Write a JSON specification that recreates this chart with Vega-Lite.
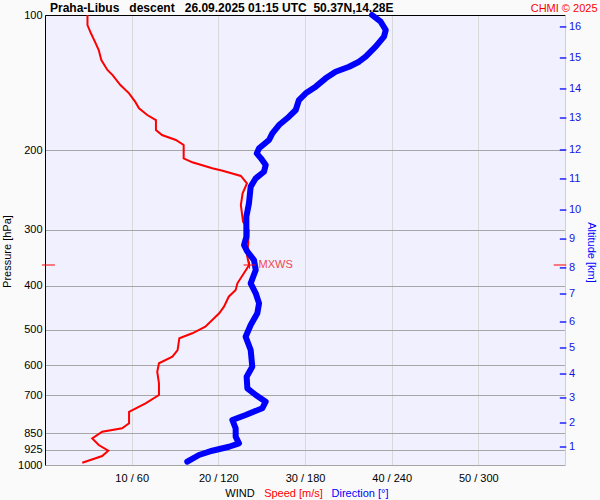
{
  "$schema": "https://vega.github.io/schema/vega-lite/v6.json",
  "width": 520,
  "height": 450,
  "autosize": {"type": "none"},
  "padding": {"left": 45, "top": 15, "right": 35, "bottom": 35},
  "background": "#FAFAFA",
  "config": {
    "view": {"fill": "#F0F0FF", "stroke": null},
    "font": "Liberation Sans",
    "axis": {"labelFont": "Liberation Sans", "titleFont": "Liberation Sans", "labelFontSize": 11, "titleFontSize": 11, "titleFontWeight": "normal", "ticks": false, "labelColor": "black", "titleColor": "black"}
  },
  "title": {"text": "Praha-Libus\u00a0\u00a0 descent\u00a0\u00a0 26.09.2025 01:15 UTC\u00a0 50.37N,14.28E", "anchor": "start", "frame": "group", "dx": 5, "dy": 25, "offset": 3, "baseline": "alphabetic", "fontSize": 12, "fontWeight": "bold", "font": "Liberation Sans", "color": "black"},
  "datasets": {
    "speed": [
      {"p": 100, "s": 4.9}, {"p": 105.3, "s": 4.9}, {"p": 109.8, "s": 5.3}, {"p": 115.6, "s": 5.85}, {"p": 119.6, "s": 6.2}, {"p": 125.9, "s": 6.5}, {"p": 132.5, "s": 7.2}, {"p": 136, "s": 7.8}, {"p": 143.1, "s": 8.7}, {"p": 149.3, "s": 9.7}, {"p": 155.8, "s": 10.4}, {"p": 161.2, "s": 10.85}, {"p": 166.8, "s": 11.8}, {"p": 171.2, "s": 12.8}, {"p": 180.1, "s": 12.8}, {"p": 184.8, "s": 13.5}, {"p": 189.6, "s": 15.1}, {"p": 194.5, "s": 16.0}, {"p": 208.2, "s": 16.0}, {"p": 212.5, "s": 17.0}, {"p": 219.1, "s": 19.3}, {"p": 221.8, "s": 20.5}, {"p": 227.9, "s": 22.6}, {"p": 236.6, "s": 23.3}, {"p": 249, "s": 22.8}, {"p": 264.5, "s": 22.6}, {"p": 288, "s": 22.85}, {"p": 300.5, "s": 23.5}, {"p": 321.7, "s": 23.45}, {"p": 341.5, "s": 23.3}, {"p": 359.4, "s": 23.55}, {"p": 375, "s": 22.95}, {"p": 394.7, "s": 22.2}, {"p": 408.5, "s": 22.0}, {"p": 422.7, "s": 21.2}, {"p": 444.8, "s": 20.65}, {"p": 460.2, "s": 20.1}, {"p": 492.9, "s": 18.5}, {"p": 509.7, "s": 17.0}, {"p": 523, "s": 15.5}, {"p": 555.3, "s": 15.3}, {"p": 574.6, "s": 14.7}, {"p": 594.3, "s": 13.15}, {"p": 620.4, "s": 12.95}, {"p": 658.3, "s": 13.15}, {"p": 699, "s": 13.15}, {"p": 729.6, "s": 11.6}, {"p": 761.6, "s": 9.7}, {"p": 808, "s": 9.7}, {"p": 828.7, "s": 8.9}, {"p": 843.3, "s": 6.6}, {"p": 872.4, "s": 5.45}, {"p": 902.9, "s": 6.2}, {"p": 929.5, "s": 7.3}, {"p": 955, "s": 6.6}, {"p": 988.3, "s": 4.3}
    ],
    "dir": [
      {"p": 100, "d": 226.4}, {"p": 103.5, "d": 232.4}, {"p": 108, "d": 235.9}, {"p": 111.7, "d": 234.7}, {"p": 117.6, "d": 228.9}, {"p": 123.8, "d": 222}, {"p": 127, "d": 217.4}, {"p": 130.3, "d": 210.5}, {"p": 133.7, "d": 201.2}, {"p": 138.3, "d": 194.3}, {"p": 144.3, "d": 187.4}, {"p": 149.3, "d": 180.5}, {"p": 154.5, "d": 175.8}, {"p": 162.6, "d": 173.6}, {"p": 168.3, "d": 168.9}, {"p": 175.6, "d": 162}, {"p": 183.2, "d": 157.4}, {"p": 189.6, "d": 155.1}, {"p": 197.8, "d": 148.2}, {"p": 203, "d": 146.6}, {"p": 208.2, "d": 149.5}, {"p": 215.4, "d": 152.8}, {"p": 223, "d": 151.6}, {"p": 230.6, "d": 145.9}, {"p": 240.7, "d": 142.4}, {"p": 262.1, "d": 141.2}, {"p": 280.7, "d": 139.4}, {"p": 311, "d": 139.4}, {"p": 324.5, "d": 137.8}, {"p": 335.7, "d": 140.1}, {"p": 350.4, "d": 144.7}, {"p": 368.8, "d": 145.9}, {"p": 394.7, "d": 142.4}, {"p": 415.4, "d": 145.9}, {"p": 437.3, "d": 148.2}, {"p": 460.2, "d": 147}, {"p": 488.6, "d": 142.4}, {"p": 518.7, "d": 138.9}, {"p": 555.3, "d": 142.4}, {"p": 604.7, "d": 143.5}, {"p": 636.5, "d": 139.6}, {"p": 675.4, "d": 140.1}, {"p": 699, "d": 145.9}, {"p": 723.4, "d": 152.8}, {"p": 748.2, "d": 150.4}, {"p": 774.3, "d": 138.9}, {"p": 794.3, "d": 129.7}, {"p": 828.7, "d": 132}, {"p": 865.2, "d": 132}, {"p": 895, "d": 134.3}, {"p": 910.7, "d": 127.4}, {"p": 929.5, "d": 115.8}, {"p": 950.1, "d": 106.6}, {"p": 983.3, "d": 98.5}
    ],
    "mxws": [{"p": 359.4, "s": 23.6, "label": "MXWS"}],
    "alt": [
      {"km": 16, "p": 106.3}, {"km": 15, "p": 124.6}, {"km": 14, "p": 146.0}, {"km": 13, "p": 169.4}, {"km": 12, "p": 199.5}, {"km": 11, "p": 231.4}, {"km": 10, "p": 271.3}, {"km": 9, "p": 314.7}, {"km": 8, "p": 364.8}, {"km": 7, "p": 416.9}, {"km": 6, "p": 481.1}, {"km": 5, "p": 549.5}, {"km": 4, "p": 627.8}, {"km": 3, "p": 709.7}, {"km": 2, "p": 806.6}, {"km": 1, "p": 912.0}
    ]
  },
  "layer": [
    {
      "data": {"name": "speed"},
      "mark": {"type": "line", "color": "#FF0000", "strokeWidth": 2},
      "encoding": {
        "x": {"field": "s", "type": "quantitative", "scale": {"domain": [0, 60], "nice": false, "zero": false},
          "axis": {"orient": "bottom", "values": [10, 20, 30, 40, 50], "labelExpr": "datum.value + ' / ' + datum.value * 6", "grid": true, "gridColor": "#D9D9D9", "domain": false, "labelPadding": 7, "title": "WIND", "titleX": 194.5, "titleY": 31, "titleBaseline": "alphabetic", "titleAlign": "center"}},
        "y": {"field": "p", "type": "quantitative", "scale": {"type": "log", "domain": [100, 1000], "reverse": true, "nice": false},
          "axis": {"orient": "left", "values": [100, 200, 300, 400, 500, 600, 700, 850, 925, 1000], "format": "d", "grid": true, "gridColor": "#A6A6A6", "domainColor": "black", "labelPadding": 3, "title": "Pressure [hPa]", "titleX": -38, "titleY": 236, "titleAngle": -90, "titleAlign": "center", "titleBaseline": "middle"}},
        "order": {"field": "p", "type": "quantitative"}
      }
    },
    {
      "data": {"name": "dir"},
      "mark": {"type": "line", "color": "#0000FF", "strokeWidth": 6, "strokeCap": "round", "strokeJoin": "round"},
      "encoding": {
        "x": {"field": "d", "type": "quantitative", "scale": {"domain": [0, 360], "nice": false, "zero": false},
          "axis": {"orient": "bottom", "labels": false, "grid": false, "domain": false, "title": "Direction [°]", "titleColor": "#0000FF", "titleX": 314.5, "titleY": 31, "titleBaseline": "alphabetic", "titleAlign": "center"}},
        "y": {"field": "p", "type": "quantitative", "scale": {"type": "log", "domain": [100, 1000], "reverse": true, "nice": false}, "axis": null},
        "order": {"field": "p", "type": "quantitative"}
      }
    },
    {
      "data": {"name": "mxws"},
      "encoding": {
        "y": {"field": "p", "type": "quantitative", "scale": {"type": "log", "domain": [100, 1000], "reverse": true, "nice": false}, "axis": null}
      },
      "layer": [
        {"mark": {"type": "point", "shape": "M-1,0H1M0,-0.6V0.6", "size": 144, "stroke": "#FF0000", "strokeWidth": 1, "filled": false, "opacity": 1},
          "encoding": {"x": {"field": "s", "type": "quantitative", "scale": {"domain": [0, 60], "nice": false, "zero": false},
            "axis": {"orient": "bottom", "labels": false, "grid": false, "domain": false, "title": "Speed [m/s]", "titleColor": "#FF0000", "titleX": 248, "titleY": 31, "titleBaseline": "alphabetic", "titleAlign": "center"}}}},
        {"mark": {"type": "text", "align": "left", "baseline": "middle", "dx": 9, "fontSize": 11, "color": "#F04848"},
          "encoding": {"x": {"field": "s", "type": "quantitative"}, "text": {"field": "label", "type": "nominal"}}},
        {"mark": {"type": "rule", "color": "#FF0000", "strokeWidth": 1},
          "encoding": {"x": {"datum": -0.35, "type": "quantitative"}, "x2": {"datum": 1.15}}},
        {"mark": {"type": "rule", "color": "#FF0000", "strokeWidth": 1},
          "encoding": {"x": {"datum": 58.7, "type": "quantitative"}, "x2": {"datum": 60.15}}}
      ]
    },
    {
      "data": {"name": "alt"},
      "encoding": {
        "y": {"field": "p", "type": "quantitative", "scale": {"type": "log", "domain": [100, 1000], "reverse": true, "nice": false},
          "axis": {"orient": "right", "labels": false, "grid": false, "domainColor": "#D0D0D0", "title": "Altitude [km]", "titleColor": "#0000FF", "titleAngle": 90, "titleX": 25, "titleY": 237, "titleAlign": "center", "titleBaseline": "middle"}}
      },
      "layer": [
        {"mark": {"type": "rule", "color": "#0000FF", "strokeWidth": 1.3},
          "encoding": {"x": {"datum": 59.4, "type": "quantitative", "scale": {"domain": [0, 60], "nice": false, "zero": false},
            "axis": {"orient": "top", "labels": false, "grid": false, "domainColor": "black", "title": "CHMI © 2025", "titleColor": "#FF0000", "titleX": 552, "titleY": -4, "titleAlign": "right", "titleBaseline": "alphabetic"}},
            "x2": {"datum": 60.15}}},
        {"mark": {"type": "text", "align": "left", "baseline": "middle", "dx": 4, "fontSize": 11, "color": "#1414E6"},
          "encoding": {"x": {"datum": 60, "type": "quantitative"}, "text": {"field": "km", "type": "quantitative"}}}
      ]
    }
  ],
  "resolve": {"scale": {"x": "independent", "y": "independent"}}
}
